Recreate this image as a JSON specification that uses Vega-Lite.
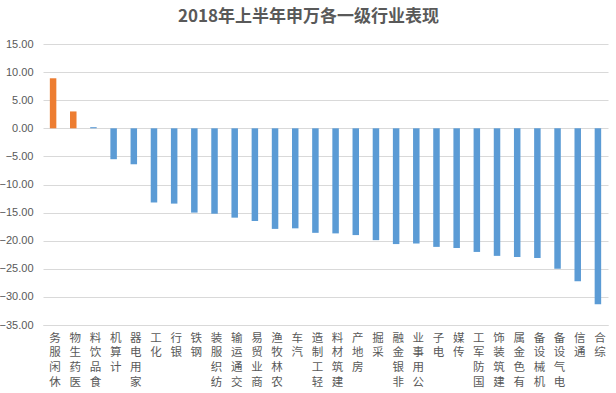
{
  "$schema": "https://vega.github.io/schema/vega-lite/v6.json",
  "width": 565,
  "height": 281,
  "autosize": {"type": "none"},
  "padding": {"left": 43, "top": 44, "right": 8, "bottom": 68},
  "background": "white",
  "title": {
    "text": "2018年上半年申万各一级行业表现",
    "font": "Noto Sans CJK SC",
    "fontSize": 17,
    "fontWeight": "bold",
    "color": "#595959",
    "anchor": "middle",
    "dx": -17,
    "offset": 12
  },
  "config": {
    "view": {"stroke": null},
    "font": "Noto Sans CJK SC"
  },
  "data": {
    "values": [
      {"industry": "休闲服务", "value": 8.9, "grp": "pos"},
      {"industry": "医药生物", "value": 3.0, "grp": "pos"},
      {"industry": "食品饮料", "value": 0.2, "grp": "neg"},
      {"industry": "计算机", "value": -5.5, "grp": "neg"},
      {"industry": "家用电器", "value": -6.4, "grp": "neg"},
      {"industry": "化工", "value": -13.2, "grp": "neg"},
      {"industry": "银行", "value": -13.4, "grp": "neg"},
      {"industry": "钢铁", "value": -15.0, "grp": "neg"},
      {"industry": "纺织服装", "value": -15.2, "grp": "neg"},
      {"industry": "交通运输", "value": -15.9, "grp": "neg"},
      {"industry": "商业贸易", "value": -16.5, "grp": "neg"},
      {"industry": "农林牧渔", "value": -17.9, "grp": "neg"},
      {"industry": "汽车", "value": -17.8, "grp": "neg"},
      {"industry": "轻工制造", "value": -18.6, "grp": "neg"},
      {"industry": "建筑材料", "value": -18.7, "grp": "neg"},
      {"industry": "房地产", "value": -19.0, "grp": "neg"},
      {"industry": "采掘", "value": -19.9, "grp": "neg"},
      {"industry": "非银金融", "value": -20.6, "grp": "neg"},
      {"industry": "公用事业", "value": -20.5, "grp": "neg"},
      {"industry": "电子", "value": -21.1, "grp": "neg"},
      {"industry": "传媒", "value": -21.3, "grp": "neg"},
      {"industry": "国防军工", "value": -22.0, "grp": "neg"},
      {"industry": "建筑装饰", "value": -22.7, "grp": "neg"},
      {"industry": "有色金属", "value": -22.9, "grp": "neg"},
      {"industry": "机械设备", "value": -23.1, "grp": "neg"},
      {"industry": "电气设备", "value": -25.0, "grp": "neg"},
      {"industry": "通信", "value": -27.2, "grp": "neg"},
      {"industry": "综合", "value": -31.3, "grp": "neg"}
    ]
  },
  "mark": {"type": "bar", "size": 6.5},
  "encoding": {
    "x": {
      "field": "industry",
      "type": "nominal",
      "sort": null,
      "scale": {"paddingInner": 0.6, "paddingOuter": 0.3},
      "axis": {
        "title": null,
        "labelAngle": 0,
        "labelExpr": "reverse(split(datum.label, ''))",
        "labelLineHeight": 14.8,
        "labelFontSize": 11.5,
        "labelColor": "#595959",
        "labelBaseline": "top",
        "labelAlign": "center",
        "labelPadding": 7,
        "labelOverlap": false,
        "labelOffset": 2,
        "ticks": false,
        "domainColor": "#D9D9D9",
        "labelFont": "Noto Sans CJK SC"
      }
    },
    "y": {
      "field": "value",
      "type": "quantitative",
      "scale": {"domain": [-35, 15], "nice": false, "zero": false},
      "axis": {
        "title": null,
        "values": [-35, -30, -25, -20, -15, -10, -5, 0, 5, 10, 15],
        "format": ".2f",
        "domain": false,
        "ticks": false,
        "gridColor": "#D9D9D9",
        "labelColor": "#595959",
        "labelFontSize": 11,
        "labelPadding": 10,
        "labelFont": "Liberation Sans"
      }
    },
    "color": {
      "field": "grp",
      "type": "nominal",
      "scale": {"domain": ["pos", "neg"], "range": ["#ED7D31", "#5B9BD5"]},
      "legend": null
    }
  }
}
